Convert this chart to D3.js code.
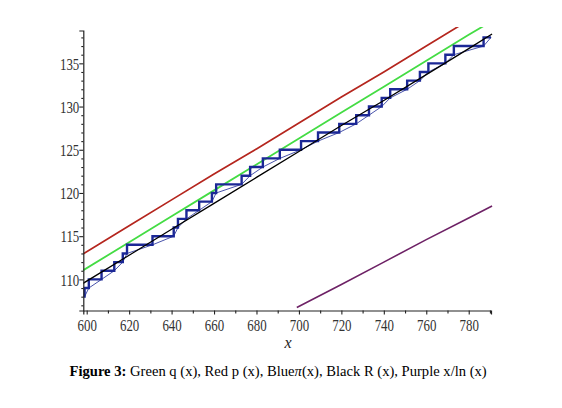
<!DOCTYPE html>
<html>
<head>
<meta charset="utf-8">
<script src="https://cdn.jsdelivr.net/npm/d3@7"></script>
<style>
  html, body { margin: 0; padding: 0; background: #fff; }
  svg { display: block; }
</style>
</head>
<body>
<svg id="chart" width="562" height="408"></svg>
<script>
// ---------- data ----------
const xMajorTicks = [600, 620, 640, 660, 680, 700, 720, 740, 760, 780];
const xMinorTicks = [610, 630, 650, 670, 690, 710, 730, 750, 770, 790];
const yMajorTicks = [110, 115, 120, 125, 130, 135];
const yMinorTicks = [107, 108, 109, 111, 112, 113, 114, 116, 117, 118, 119, 121, 122, 123, 124,
                     126, 127, 128, 129, 131, 132, 133, 134, 136, 137, 138];

// smooth approximations sampled along x
const curveX = [598, 620, 640, 660, 680, 700, 720, 740, 760, 780, 791];
const greenQ = [111.0, 114.3, 117.3, 120.3, 123.3, 126.3, 129.3, 132.3, 135.3, 138.3, 139.9];
const redP   = [112.9, 116.2, 119.2, 122.2, 125.1, 128.1, 131.1, 134.0, 137.0, 140.0, 141.6];
const blackR = [109.5, 112.8, 115.8, 118.8, 121.8, 124.8, 127.8, 130.7, 133.7, 136.7, 138.4];

// x / ln(x)
const purpleX = [699, 720, 740, 760, 780, 791];
const purpleY = [106.75, 109.4, 112.0, 114.6, 117.1, 118.5];

// prime counting function pi(x): jump positions and levels
const primeStart = 598.4, piStart = 108, primeEnd = 790.5;
const primes  = [599, 601, 607, 613, 617, 619, 631, 641, 643, 647, 653, 659, 661, 673, 677,
                 683, 691, 701, 709, 719, 727, 733, 739, 743, 751, 757, 761, 769, 773, 787];
const piLevel = [109, 110, 111, 112, 113, 114, 115, 116, 117, 118, 119, 120, 121, 122, 123,
                 124, 125, 126, 127, 128, 129, 130, 131, 132, 133, 134, 135, 136, 137, 138];

const captionBold = "Figure 3:";
const captionRest = " Green q (x), Red p (x), Blue";
const captionPi = "π";
const captionEnd = "(x), Black R (x), Purple x/ln (x)";

// ---------- drawing ----------
const svg = d3.select("#chart");
const serif = "'Liberation Serif', 'Times New Roman', serif";

const x = d3.scaleLinear().domain([598.4, 790.5]).range([83.3, 491]);
const y = d3.scaleLinear().domain([106.4, 138.8]).range([310.5, 30.5]);

svg.append("defs").append("clipPath").attr("id", "clip")
  .append("rect").attr("x", x(598.4)).attr("y", 27).attr("width", x(790.5) - x(598.4) + 3).attr("height", y(106.4) - 27);

const plot = svg.append("g").attr("clip-path", "url(#clip)");
const line = d3.line().x(d => x(d[0])).y(d => y(d[1]));

// red p(x)
plot.append("path").datum(d3.zip(curveX, redP)).attr("d", line)
  .attr("fill", "none").attr("stroke", "#b5261e").attr("stroke-width", 1.7);
// green q(x)
plot.append("path").datum(d3.zip(curveX, greenQ)).attr("d", line)
  .attr("fill", "none").attr("stroke", "#44dc44").attr("stroke-width", 1.8);

// blue pi(x) step
const stepPts = [[primeStart, piStart]].concat(d3.zip(primes, piLevel));
stepPts.push([primeEnd, piLevel[piLevel.length - 1]]);
plot.append("path").datum(stepPts)
  .attr("d", d3.line().curve(d3.curveStepAfter).x(d => x(d[0])).y(d => y(d[1])))
  .attr("fill", "none").attr("stroke", "#1c2896").attr("stroke-width", 2.4);
// thin blue linear join of the lower corners
const thinPts = [[primeStart, piStart]];
for (let i = 0; i < primes.length; i++) {
  thinPts.push([primes[i], i === 0 ? piStart : piLevel[i - 1]]);
}
thinPts.push([primeEnd, piLevel[piLevel.length - 1]]);
plot.append("path").datum(thinPts).attr("d", line)
  .attr("fill", "none").attr("stroke", "#1c2896").attr("stroke-width", 0.8);

// black R(x)
plot.append("path").datum(d3.zip(curveX, blackR)).attr("d", line)
  .attr("fill", "none").attr("stroke", "#000").attr("stroke-width", 1.3);
// purple x/ln x
plot.append("path").datum(d3.zip(purpleX, purpleY)).attr("d", line)
  .attr("fill", "none").attr("stroke", "#6e2266").attr("stroke-width", 1.6);

// ---------- axes ----------
const axisColor = "#222";
const xAxisG = svg.append("g").attr("transform", `translate(0,${y(106.4)})`);
xAxisG.call(d3.axisBottom(x).tickValues(xMajorTicks).tickSize(4).tickPadding(5).tickFormat(d3.format("d")));
const xMinor = svg.append("g").attr("transform", `translate(0,${y(106.4)})`);
xMinor.call(d3.axisBottom(x).tickValues(xMinorTicks).tickSize(3).tickFormat(""));
xMinor.select(".domain").remove();

const yAxisG = svg.append("g").attr("transform", `translate(${x(598.4)},0)`);
yAxisG.call(d3.axisLeft(y).tickValues(yMajorTicks).tickSize(4).tickPadding(1).tickFormat(d3.format("d")));
const yMinor = svg.append("g").attr("transform", `translate(${x(598.4)},0)`);
yMinor.call(d3.axisLeft(y).tickValues(yMinorTicks).tickSize(2).tickFormat(""));
yMinor.select(".domain").remove();

svg.selectAll(".domain").attr("stroke", axisColor).attr("stroke-width", 1.2);
svg.selectAll(".tick line").attr("stroke", axisColor).attr("stroke-width", 1.1);

// tick label styling: tall, narrow serif numerals
xAxisG.selectAll(".tick text").each(function() {
  const t = d3.select(this);
  t.attr("font-family", serif).attr("font-size", 17).attr("fill", "#333")
   .attr("dy", null).attr("y", 0)
   .attr("transform", "translate(0,20) scale(0.76,1)");
});
yAxisG.selectAll(".tick text").each(function() {
  const t = d3.select(this);
  t.attr("font-family", serif).attr("font-size", 17).attr("fill", "#333")
   .attr("x", 0).attr("dy", "0.34em")
   .attr("transform", "translate(-4,0) scale(0.76,1)");
});

// axis title
svg.append("text").attr("x", 288).attr("y", 348).attr("text-anchor", "middle")
  .attr("font-family", serif).attr("font-style", "italic").attr("font-size", 16).attr("fill", "#222")
  .text("x");

// caption
const cap = svg.append("text").attr("x", 69.5).attr("y", 376)
  .attr("font-family", serif).attr("font-size", 14.6).attr("fill", "#000");
cap.append("tspan").attr("font-weight", "bold").text(captionBold);
cap.append("tspan").text(captionRest);
cap.append("tspan").attr("font-style", "italic").text(captionPi);
cap.append("tspan").text(captionEnd);
</script>
</body>
</html>
